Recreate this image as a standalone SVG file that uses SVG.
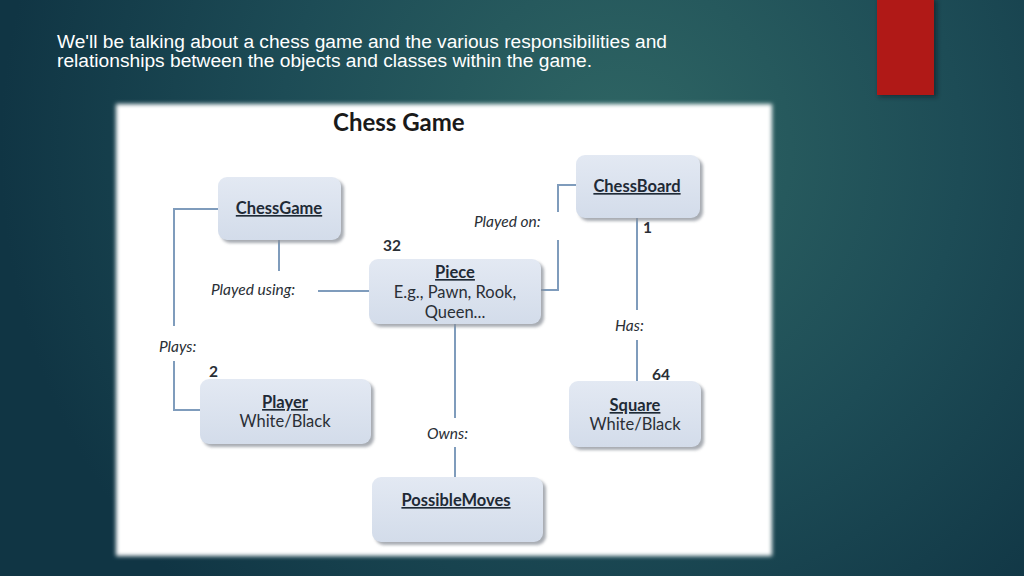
<svg xmlns="http://www.w3.org/2000/svg" width="1024" height="576" viewBox="0 0 1024 576">
  <defs>
    <radialGradient id="bg" cx="620" cy="150" r="620" gradientUnits="userSpaceOnUse">
      <stop offset="0" stop-color="#2f6664"/>
      <stop offset="0.55" stop-color="#1d4c56"/>
      <stop offset="1" stop-color="#103544"/>
    </radialGradient>
    <linearGradient id="boxfill" x1="0" y1="0" x2="0" y2="1">
      <stop offset="0" stop-color="#e3e9f3"/>
      <stop offset="1" stop-color="#d3dcea"/>
    </linearGradient>
    <filter id="soft" x="-5%" y="-5%" width="110%" height="110%">
      <feGaussianBlur stdDeviation="2"/>
    </filter>
    <filter id="shadow" x="-10%" y="-10%" width="125%" height="130%">
      <feGaussianBlur stdDeviation="1.8"/>
    </filter>
    <filter id="barshadow" x="-20%" y="-10%" width="140%" height="130%">
      <feGaussianBlur stdDeviation="2"/>
    </filter>
    <style>
      .head { font-family: "Liberation Sans", Arial, sans-serif; font-size: 18px; fill: #ffffff; }
      .title { font-family: Lato, "Open Sans", sans-serif; font-size: 24px; font-weight: bold; fill: #1a1a1a; }
      .name { font-family: Lato, "Open Sans", sans-serif; font-size: 16.5px; font-weight: bold; fill: #1f2a36; text-decoration: underline; text-anchor: middle; }
      .sub { font-family: Lato, "Open Sans", sans-serif; font-size: 16.5px; fill: #2a2f36; text-anchor: middle; }
      .lbl { font-family: Lato, "Open Sans", sans-serif; font-size: 15.5px; font-style: italic; fill: #2a2f36; }
      .num { font-family: Lato, "Open Sans", sans-serif; font-size: 15.5px; fill: #2a2f36; font-weight: bold; }
      .box { fill: url(#boxfill); }
      .boxsh { fill: #8a9099; opacity: 0.75; filter: url(#shadow); }
      .conn { fill: none; stroke: #7f9cbc; stroke-width: 2; }
    </style>
  </defs>

  <rect x="0" y="0" width="1024" height="576" fill="url(#bg)"/>

  <!-- red bar -->
  <rect x="879" y="0" width="58" height="97" fill="#0a1e26" opacity="0.6" filter="url(#barshadow)"/>
  <rect x="877" y="0" width="57" height="95" fill="#b01917"/>

  <!-- header text -->
  <text class="head" x="57" y="48" textLength="610" lengthAdjust="spacingAndGlyphs">We'll be talking about a chess game and the various responsibilities and</text>
  <text class="head" x="57" y="67" textLength="535" lengthAdjust="spacingAndGlyphs">relationships between the objects and classes within the game.</text>

  <!-- white panel -->
  <rect x="116" y="104" width="656" height="452" fill="#ffffff" filter="url(#soft)"/>

  <text class="title" x="333" y="131">Chess Game</text>

  <!-- connectors -->
  <g id="connectors">
    <path class="conn" d="M218 209 H174 V326"/>
    <path class="conn" d="M174 361 V410 H200"/>
    <path class="conn" d="M279 240 V271"/>
    <path class="conn" d="M318 291 H369"/>
    <path class="conn" d="M541 290 H558 V240"/>
    <path class="conn" d="M558 212 V185 H576"/>
    <path class="conn" d="M637 218 V310"/>
    <path class="conn" d="M637 340 V381"/>
    <path class="conn" d="M455 324 V418"/>
    <path class="conn" d="M455 447 V477"/>
  </g>

  <!-- connector labels -->
  <text class="lbl" x="159" y="352">Plays:</text>
  <text class="num" x="209" y="377">2</text>
  <text class="lbl" x="211" y="295">Played using:</text>
  <text class="num" x="383" y="251">32</text>
  <text class="lbl" x="474" y="227">Played on:</text>
  <text class="num" x="643" y="233">1</text>
  <text class="lbl" x="615" y="331">Has:</text>
  <text class="num" x="652" y="380">64</text>
  <text class="lbl" x="427" y="439">Owns:</text>

  <!-- nodes -->
  <g id="chessgame">
    <rect class="boxsh" x="221" y="180" width="123" height="63" rx="9"/>
    <rect class="box" x="218" y="177" width="123" height="63" rx="9"/>
    <text class="name" x="279" y="214">ChessGame</text>
  </g>
  <g id="chessboard">
    <rect class="boxsh" x="579" y="158" width="124" height="63" rx="9"/>
    <rect class="box" x="576" y="155" width="124" height="63" rx="9"/>
    <text class="name" x="637" y="192">ChessBoard</text>
  </g>
  <g id="piece">
    <rect class="boxsh" x="372" y="262" width="172" height="65" rx="9"/>
    <rect class="box" x="369" y="259" width="172" height="65" rx="9"/>
    <text class="name" x="455" y="278">Piece</text>
    <text class="sub" x="455" y="298">E.g., Pawn, Rook,</text>
    <text class="sub" x="455" y="318">Queen...</text>
  </g>
  <g id="player">
    <rect class="boxsh" x="203" y="382" width="171" height="65" rx="9"/>
    <rect class="box" x="200" y="379" width="171" height="65" rx="9"/>
    <text class="name" x="285" y="408">Player</text>
    <text class="sub" x="285" y="427">White/Black</text>
  </g>
  <g id="square">
    <rect class="boxsh" x="572" y="384" width="132" height="66" rx="9"/>
    <rect class="box" x="569" y="381" width="132" height="66" rx="9"/>
    <text class="name" x="635" y="411">Square</text>
    <text class="sub" x="635" y="430">White/Black</text>
  </g>
  <g id="possiblemoves">
    <rect class="boxsh" x="375" y="480" width="171" height="65" rx="9"/>
    <rect class="box" x="372" y="477" width="171" height="65" rx="9"/>
    <text class="name" x="456" y="506">PossibleMoves</text>
  </g>
</svg>
